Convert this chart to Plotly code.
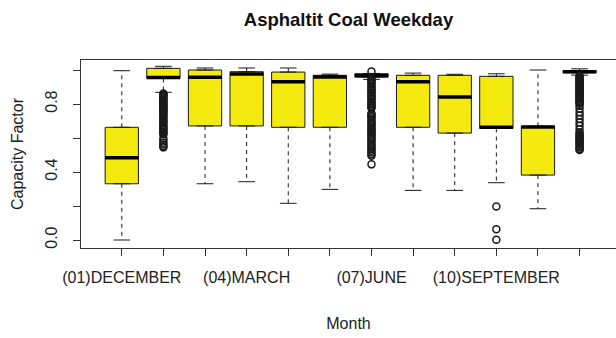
import plotly.graph_objects as go

# Monthly capacity-factor distribution (weekday hours)
months = ["(01)DECEMBER", "(02)JANUARY", "(03)FEBRUARY", "(04)MARCH", "(05)APRIL",
          "(06)MAY", "(07)JUNE", "(08)JULY", "(09)AUGUST", "(10)SEPTEMBER",
          "(11)OCTOBER", "(12)NOVEMBER"]
shown_labels = ["(01)DECEMBER", "", "", "(04)MARCH", "", "", "(07)JUNE", "", "",
                "(10)SEPTEMBER", "", ""]

lower_whisker = [0.000, 0.869, 0.331, 0.343, 0.216, 0.298, 0.945, 0.292, 0.292, 0.337, 0.184, 0.970]
q1 =            [0.331, 0.950, 0.671, 0.671, 0.663, 0.663, 0.958, 0.663, 0.629, 0.656, 0.382, 0.984]
median =        [0.484, 0.956, 0.957, 0.977, 0.931, 0.959, 0.968, 0.931, 0.841, 0.664, 0.665, 0.990]
q3 =            [0.663, 1.010, 1.000, 0.990, 0.988, 0.969, 0.978, 0.969, 0.969, 0.963, 0.669, 0.996]
upper_whisker = [0.996, 1.022, 1.012, 1.012, 1.012, 0.976, 0.980, 0.982, 0.975, 0.978, 1.000, 1.007]

# Outlying observations per month (month index 1..12)
outliers = {
    2: [0.862, 0.856, 0.850, 0.844, 0.838, 0.832, 0.826, 0.818, 0.812, 0.805, 0.798,
        0.790, 0.784, 0.776, 0.770, 0.762, 0.755, 0.748, 0.740, 0.732, 0.724, 0.712,
        0.703, 0.695, 0.688, 0.676, 0.667, 0.660, 0.652, 0.645, 0.636, 0.628, 0.622,
        0.598, 0.585, 0.572, 0.562, 0.552, 0.545],
    7: [0.992, 0.948, 0.940, 0.934, 0.925, 0.918, 0.905, 0.896, 0.889, 0.880, 0.870,
        0.862, 0.852, 0.845, 0.836, 0.828, 0.815, 0.806, 0.798, 0.790, 0.781, 0.776,
        0.746, 0.738, 0.730, 0.722, 0.712, 0.700, 0.690, 0.682, 0.672, 0.662, 0.652,
        0.645, 0.636, 0.628, 0.618, 0.608, 0.598, 0.588, 0.578, 0.566, 0.556, 0.545,
        0.535, 0.525, 0.515, 0.505, 0.496, 0.445],
    10: [0.197, 0.063, 0.002],
    12: [0.965, 0.958, 0.952, 0.946, 0.940, 0.934, 0.928, 0.922, 0.916, 0.910, 0.904,
         0.898, 0.892, 0.886, 0.880, 0.874, 0.868, 0.862, 0.856, 0.850, 0.844, 0.838,
         0.832, 0.826, 0.820, 0.814, 0.808, 0.802, 0.790, 0.772, 0.752, 0.732, 0.712,
         0.692, 0.672, 0.652, 0.632, 0.624, 0.616, 0.608, 0.600, 0.592, 0.584, 0.576,
         0.568, 0.560, 0.552, 0.544, 0.536, 0.530],
}

pos = list(range(1, len(months) + 1))
box_w = 0.8
cap_w = box_w * 0.5
ink = "#1a1a1a"
fill = "#f5ea10"

fig = go.Figure()

# dashed whiskers
wx, wy = [], []
for i, lo, a, b, hi in zip(pos, lower_whisker, q1, q3, upper_whisker):
    wx += [i, i, None, i, i, None]
    wy += [b, hi, None, a, lo, None]
fig.add_trace(go.Scatter(x=wx, y=wy, mode="lines", hoverinfo="skip",
                         line=dict(color=ink, width=1, dash="4px,4px")))

# whisker staples
cx, cy = [], []
for i, lo, hi in zip(pos, lower_whisker, upper_whisker):
    cx += [i - cap_w / 2, i + cap_w / 2, None, i - cap_w / 2, i + cap_w / 2, None]
    cy += [hi, hi, None, lo, lo, None]
fig.add_trace(go.Scatter(x=cx, y=cy, mode="lines", hoverinfo="skip",
                         line=dict(color=ink, width=1)))

# boxes (whiskers handled separately)
fig.add_trace(go.Box(x=pos, q1=q1, median=median, q3=q3,
                     lowerfence=q1, upperfence=q3, width=box_w,
                     fillcolor=fill, line=dict(color=ink, width=1),
                     boxpoints=False, hoverinfo="skip"))

# heavy median bars
mx, my = [], []
for i, m in zip(pos, median):
    mx += [i - box_w / 2, i + box_w / 2, None]
    my += [m, m, None]
fig.add_trace(go.Scatter(x=mx, y=my, mode="lines", hoverinfo="skip",
                         line=dict(color="#000000", width=3.5)))

# outliers
ox, oy = [], []
for k, vals in outliers.items():
    ox += [k] * len(vals)
    oy += vals
fig.add_trace(go.Scatter(x=ox, y=oy, mode="markers", hoverinfo="skip",
                         marker=dict(symbol="circle-open", size=7,
                                     color=ink, line=dict(width=1.5, color=ink))))

font = "Liberation Sans, Arial, sans-serif"
fig.update_layout(
    width=616, height=338,
    margin=dict(l=81, r=0, t=60, b=90),
    paper_bgcolor="white", plot_bgcolor="white",
    showlegend=False, boxmode="overlay",
    font=dict(family=font, size=16, color="#222222"),
    title=dict(text="<b>Asphaltit Coal Weekday</b>", x=0.5, xref="paper",
               xanchor="center", y=1 - 20 / 338, yanchor="middle",
               font=dict(family=font, size=18.5, color="#111111")),
    xaxis=dict(range=[0.02, 12.875], tickmode="array", tickvals=pos,
               ticktext=shown_labels, ticks="outside", ticklen=7,
               tickcolor="#333333", showline=True, mirror=True,
               linecolor="#333333", linewidth=1, showgrid=False, zeroline=False,
               tickfont=dict(size=16), ticklabelstandoff=8,
               title=dict(text="Month", standoff=32, font=dict(size=16))),
    yaxis=dict(range=[-0.047, 1.059], tickmode="array",
               tickvals=[0.0, 0.2, 0.4, 0.6, 0.8, 1.0],
               ticktext=["0.0", "", "0.4", "", "0.8", ""], tickangle=-90,
               ticks="outside", ticklen=7, tickcolor="#333333",
               showline=True, linecolor="#333333", linewidth=1,
               showgrid=False, zeroline=False, tickfont=dict(size=16),
               ticklabelstandoff=10,
               title=dict(text="Capacity Factor", standoff=14, font=dict(size=16))),
)

fig.write_html("out.html")
